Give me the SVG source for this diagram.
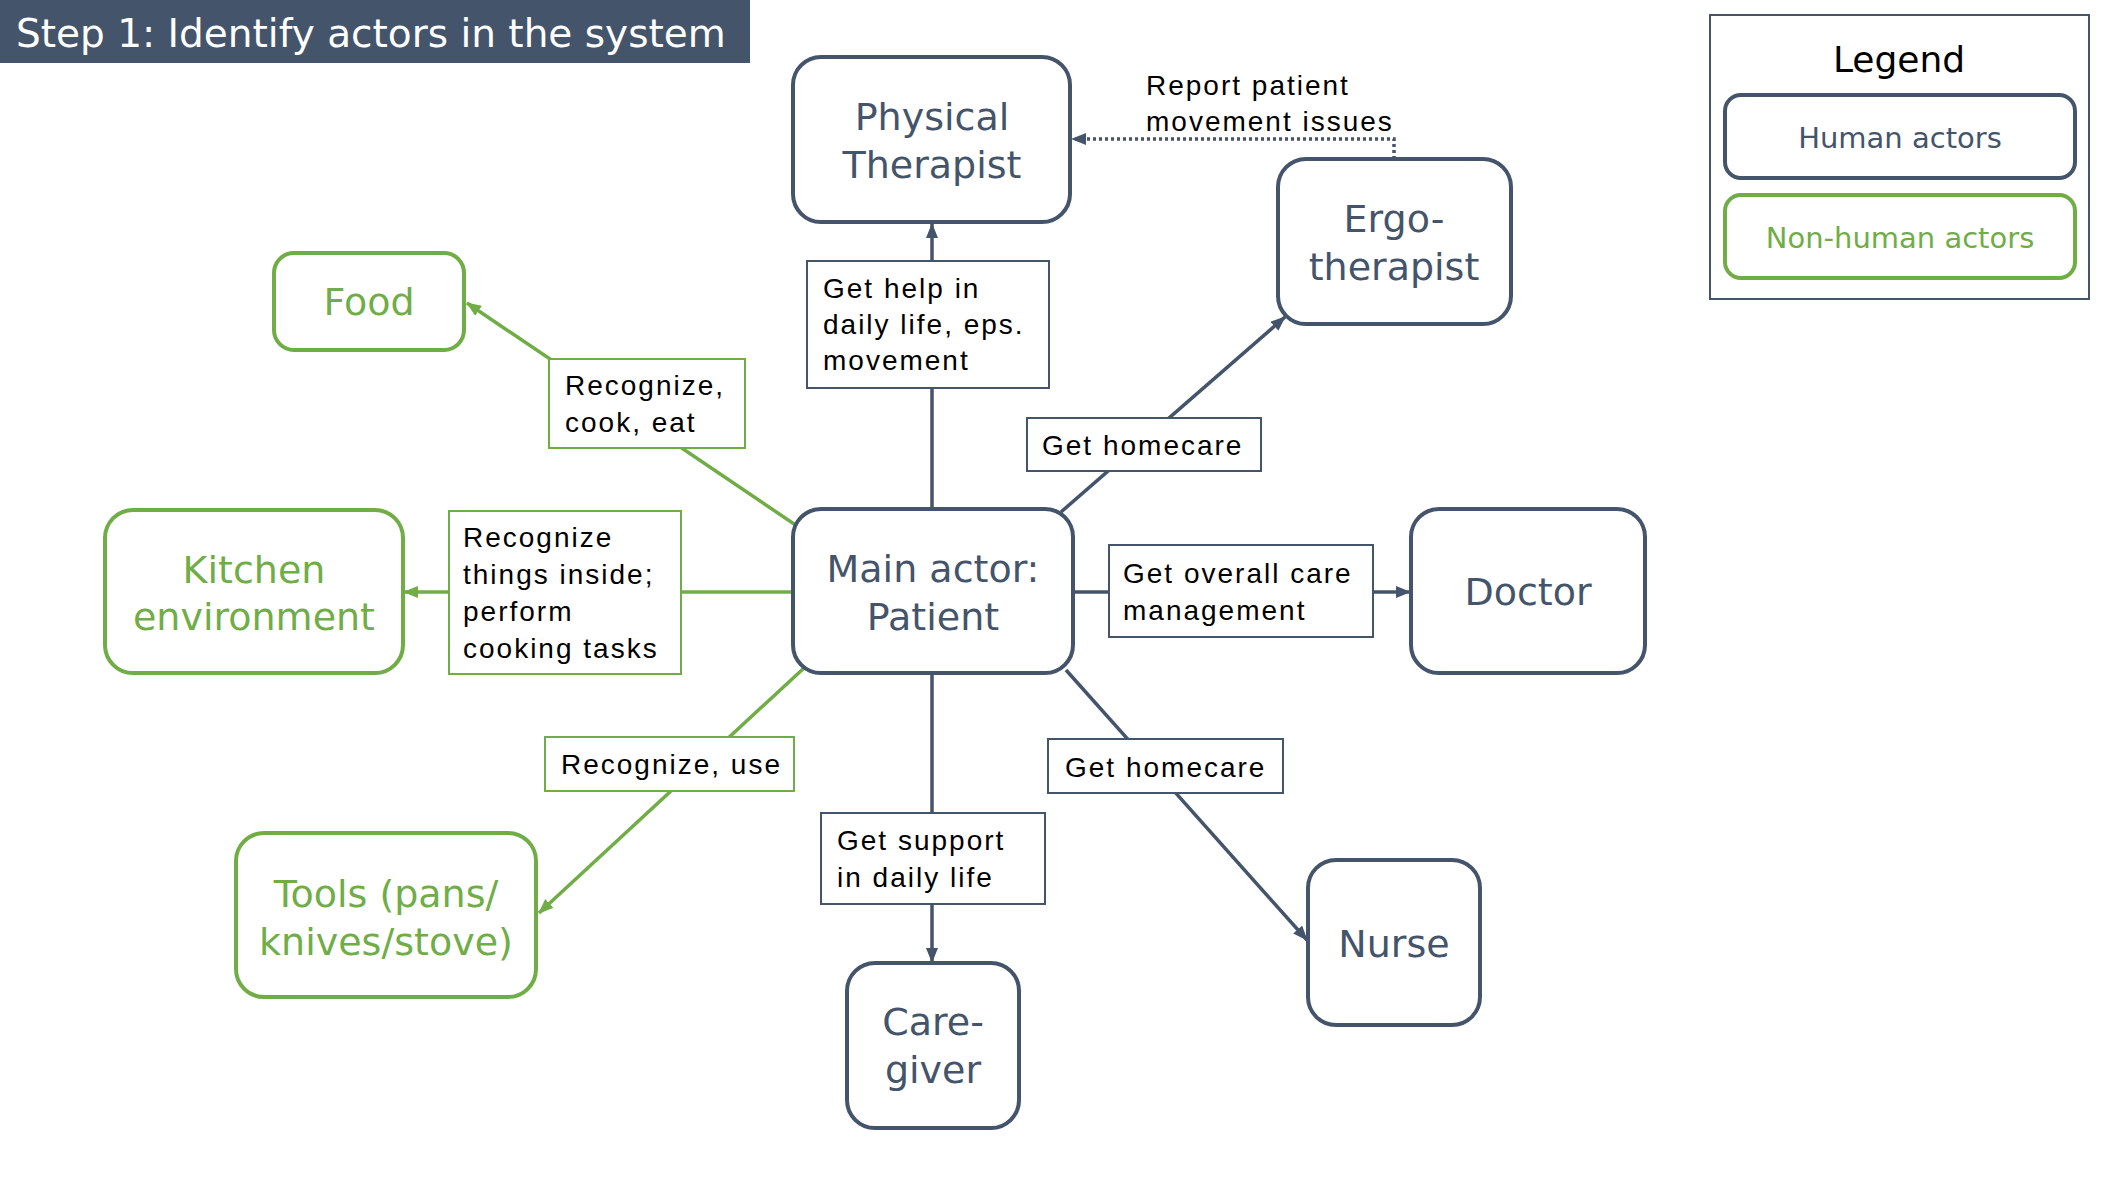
<svg xmlns="http://www.w3.org/2000/svg" width="2106" height="1186" viewBox="0 0 2106 1186">
<style>
.node{fill:#fff;stroke-width:4}
.h{stroke:#44546A}
.nh{stroke:#70AD47}
.nt{font-family:"DejaVu Sans",sans-serif;font-size:38px;text-anchor:middle}
.ht{fill:#44546A}
.gt{fill:#70AD47}
.lbl{fill:#fff;stroke-width:2}
.lt{font-family:"Liberation Sans",Arial,sans-serif;font-size:28px;letter-spacing:2px;fill:#000}
.c{fill:none;stroke-width:3.5}
.cd{stroke:#44546A;marker-end:url(#ad)}
.cg{stroke:#70AD47;marker-end:url(#ag)}
</style>
<defs>
<marker id="ad" markerUnits="userSpaceOnUse" markerWidth="16" markerHeight="12" refX="14" refY="6" orient="auto"><path d="M0,0 L15,6 L0,12 z" fill="#44546A"/></marker>
<marker id="ag" markerUnits="userSpaceOnUse" markerWidth="16" markerHeight="12" refX="14" refY="6" orient="auto"><path d="M0,0 L15,6 L0,12 z" fill="#70AD47"/></marker>
</defs>
<rect width="2106" height="1186" fill="#fff"/>
<g id="title">
<rect x="0" y="0" width="750" height="63" fill="#44546A"/>
<text x="16" y="47" font-family="DejaVu Sans,sans-serif" font-size="39" fill="#fff">Step 1: Identify actors in the system</text>
</g>
<g id="connectors">
<path class="c cd" d="M932,509 V224"/>
<path class="c cd" d="M1394,159 V139 H1072" stroke-dasharray="3 3"/>
<path class="c cd" d="M1061,512 L1285,317"/>
<path class="c cd" d="M1073,592 H1410"/>
<path class="c cd" d="M1066,670 L1307,940"/>
<path class="c cd" d="M932,673 V962"/>
<path class="c cg" d="M804,668 L539,913"/>
<path class="c cg" d="M793,592 H404"/>
<path class="c cg" d="M800,528 L467,303"/>
</g>
<g id="labels">
<g id="lbl-help"><rect class="lbl h" x="807" y="261" width="242" height="127"/><text class="lt" x="823" y="298">Get help in</text><text class="lt" x="823" y="334">daily life, eps.</text><text class="lt" x="823" y="370">movement</text></g>
<g id="lbl-report"><text class="lt" x="1146" y="95">Report patient</text><text class="lt" x="1146" y="131">movement issues</text></g>
<g id="lbl-homecare1"><rect class="lbl h" x="1027" y="418" width="234" height="53"/><text class="lt" x="1042" y="455">Get homecare</text></g>
<g id="lbl-food"><rect class="lbl nh" x="549" y="359" width="196" height="89"/><text class="lt" x="565" y="395">Recognize,</text><text class="lt" x="565" y="432">cook, eat</text></g>
<g id="lbl-kitchen"><rect class="lbl nh" x="449" y="511" width="232" height="163"/><text class="lt" x="463" y="547">Recognize</text><text class="lt" x="463" y="584">things inside;</text><text class="lt" x="463" y="621">perform</text><text class="lt" x="463" y="658">cooking tasks</text></g>
<g id="lbl-doctor"><rect class="lbl h" x="1109" y="545" width="264" height="92"/><text class="lt" x="1123" y="583">Get overall care</text><text class="lt" x="1123" y="620">management</text></g>
<g id="lbl-tools"><rect class="lbl nh" x="545" y="737" width="249" height="54"/><text class="lt" x="561" y="774">Recognize, use</text></g>
<g id="lbl-homecare2"><rect class="lbl h" x="1048" y="739" width="235" height="54"/><text class="lt" x="1065" y="777">Get homecare</text></g>
<g id="lbl-support"><rect class="lbl h" x="821" y="813" width="224" height="91"/><text class="lt" x="837" y="850">Get support</text><text class="lt" x="837" y="887">in daily life</text></g>
</g>
<g id="physical-therapist"><rect class="node h" x="793" y="57" width="277" height="165" rx="28"/><text class="nt ht" x="932" y="130">Physical</text><text class="nt ht" x="932" y="178">Therapist</text></g>
<g id="ergo-therapist"><rect class="node h" x="1278" y="159" width="233" height="165" rx="28"/><text class="nt ht" x="1394" y="232">Ergo-</text><text class="nt ht" x="1394" y="280">therapist</text></g>
<g id="food"><rect class="node nh" x="274" y="253" width="190" height="97" rx="20"/><text class="nt gt" x="369" y="315">Food</text></g>
<g id="kitchen"><rect class="node nh" x="105" y="510" width="298" height="163" rx="28"/><text class="nt gt" x="254" y="583">Kitchen</text><text class="nt gt" x="254" y="630">environment</text></g>
<g id="patient"><rect class="node h" x="793" y="509" width="280" height="164" rx="28"/><text class="nt ht" x="933" y="582">Main actor:</text><text class="nt ht" x="933" y="630">Patient</text></g>
<g id="doctor"><rect class="node h" x="1411" y="509" width="234" height="164" rx="28"/><text class="nt ht" x="1528" y="605">Doctor</text></g>
<g id="tools"><rect class="node nh" x="236" y="833" width="300" height="164" rx="28"/><text class="nt gt" x="386" y="907">Tools (pans/</text><text class="nt gt" x="386" y="955">knives/stove)</text></g>
<g id="caregiver"><rect class="node h" x="847" y="963" width="172" height="165" rx="28"/><text class="nt ht" x="933" y="1035">Care-</text><text class="nt ht" x="933" y="1083">giver</text></g>
<g id="nurse"><rect class="node h" x="1308" y="860" width="172" height="165" rx="28"/><text class="nt ht" x="1394" y="957">Nurse</text></g>
<g id="legend">
<rect x="1710" y="15" width="379" height="284" fill="#fff" stroke="#44546A" stroke-width="2"/>
<text x="1899" y="72" font-family="DejaVu Sans,sans-serif" font-size="36" text-anchor="middle" fill="#000">Legend</text>
<rect class="node h" x="1725" y="95" width="350" height="83" rx="16"/>
<text x="1900" y="148" font-family="DejaVu Sans,sans-serif" font-size="29" text-anchor="middle" fill="#44546A">Human actors</text>
<rect class="node nh" x="1725" y="195" width="350" height="83" rx="16"/>
<text x="1900" y="248" font-family="DejaVu Sans,sans-serif" font-size="29" text-anchor="middle" fill="#70AD47">Non-human actors</text>
</g>
</svg>
